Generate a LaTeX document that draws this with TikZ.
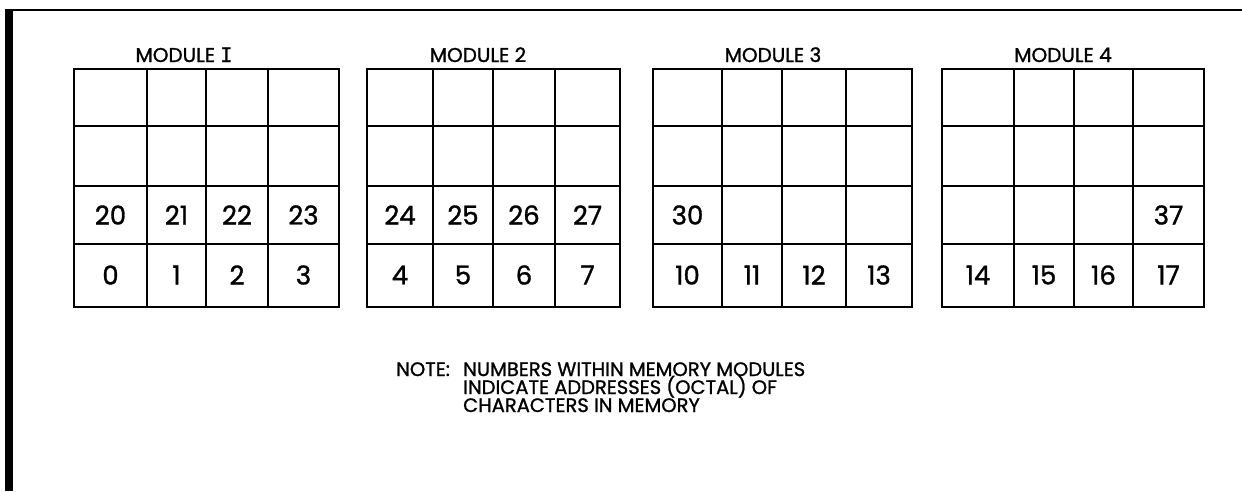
\documentclass[tikz,border=0pt]{standalone}
\usepackage{fontspec}
\newfontfamily\pop{Poppins}[FakeBold=1.2]
\newfontfamily\serifI{DejaVu Sans Mono}[FakeBold=1.2]
\begin{document}
\begin{tikzpicture}[x=1pt,y=-1pt,
  grid/.style={line width=1.6pt},
  num/.style={font=\pop\fontsize{26}{26}\selectfont, inner sep=0pt},
  mtitle/.style={font=\pop\fontsize{20}{20}\selectfont, inner sep=0pt, anchor=base},
  note/.style={font=\pop\fontsize{19.5}{19.5}\selectfont, inner sep=0pt, anchor=base west}]
\useasboundingbox (0,0) rectangle (1242,491);
% frame
\fill (5,9) rectangle (13,491);
\draw[line width=1.8pt] (5,10) -- (1242,10);
% grids
\foreach \a/\b/\c/\d/\e in {74/147/206/268/339, 367/433/493/555/620, 653/722/782/846/912, 942/1014/1074/1133/1204} {
  \draw[grid] (\a,69) rectangle (\e,307);
  \foreach \x in {\b,\c,\d} \draw[grid] (\x,69) -- (\x,307);
  \foreach \y in {126,186,244} \draw[grid] (\a,\y) -- (\e,\y);
}
% titles
\node[mtitle] (t1) at (184,62) {MODULE {\serifI I}};
\node[mtitle] (t2) at (478,62) {MODULE 2};
\node[mtitle] (t3) at (773,62) {MODULE 3};
\node[mtitle] (t4) at (1063,62) {MODULE 4};
% row 3 numbers
\node[num] (n20) at (110.5,215) {20};
\node[num] (n21) at (176.5,215) {21};
\node[num] (n22) at (237,215) {22};
\node[num] (n23) at (303.5,215) {23};
\node[num] (n24) at (400,215) {24};
\node[num] (n25) at (463,215) {25};
\node[num] (n26) at (524,215) {26};
\node[num] (n27) at (587.5,215) {27};
\node[num] (n30) at (687.5,215) {30};
\node[num] (n37) at (1168.5,215) {37};
% row 4 numbers
\node[num] (n0) at (110.5,275) {0};
\node[num] (n1) at (176.5,275) {1};
\node[num] (n2) at (237,275) {2};
\node[num] (n3) at (303.5,275) {3};
\node[num] (n4) at (400,275) {4};
\node[num] (n5) at (463,275) {5};
\node[num] (n6) at (524,275) {6};
\node[num] (n7) at (587.5,275) {7};
\node[num] (n10) at (687.5,275) {10};
\node[num] (n11) at (752,275) {11};
\node[num] (n12) at (814,275) {12};
\node[num] (n13) at (879,275) {13};
\node[num] (n14) at (978,275) {14};
\node[num] (n15) at (1044,275) {15};
\node[num] (n16) at (1103.5,275) {16};
\node[num] (n17) at (1168.5,275) {17};
% note
\node[note] (notehead) at (396,376) {NOTE:};
\node[note] (note1) at (463,376) {NUMBERS WITHIN MEMORY MODULES};
\node[note] (note2) at (463,394) {INDICATE ADDRESSES (OCTAL) OF};
\node[note] (note3) at (463,412) {CHARACTERS IN MEMORY};
\end{tikzpicture}
\end{document}
